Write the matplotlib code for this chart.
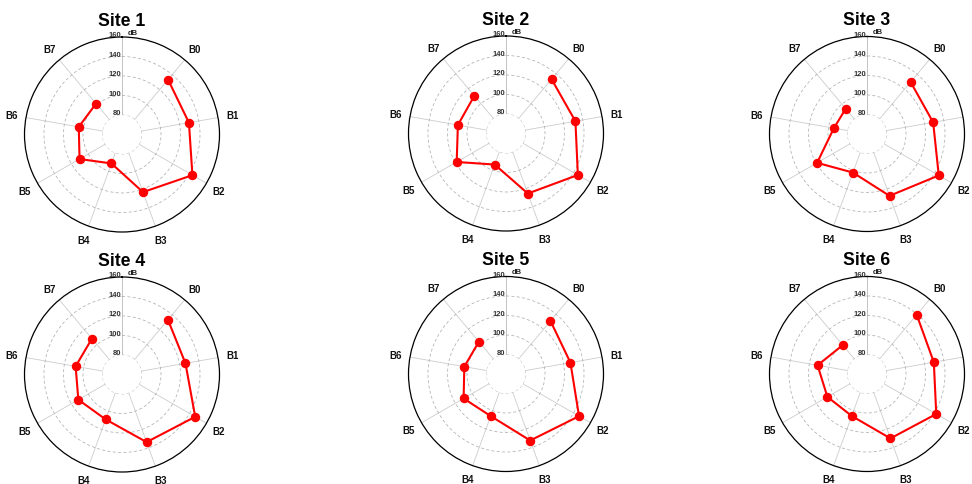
import numpy as np
import matplotlib
matplotlib.use("Agg")
import matplotlib.pyplot as plt

plt.rcParams['font.family'] = ['Liberation Sans', 'DejaVu Sans']

# === DATA ===
bands = ["B0", "B1", "B2", "B3", "B4", "B5", "B6", "B7"]
band_angles_deg = [40, 80, 120, 160, 200, 240, 280, 320]
r_ticks = [80, 100, 120, 140, 160]
r_tick_labels = ["80", "100", "120", "140", "160"]

site_names = ["Site 1", "Site 2", "Site 3", "Site 4", "Site 5", "Site 6"]
site1 = [133.5, 129.7, 143.4, 122.9, 91.6, 110.3, 105.0, 101.4]
site2 = [132.7, 132.3, 145.1, 125.5, 93.9, 118.4, 110.1, 110.5]
site3 = [129.6, 128.9, 145.0, 127.5, 102.1, 119.1, 94.5, 93.9]
site4 = [133.3, 126.1, 146.7, 133.8, 109.0, 111.7, 108.3, 108.0]
site5 = [131.0, 127.1, 146.5, 132.6, 105.9, 110.2, 103.4, 103.3]
site6 = [139.3, 129.6, 142.0, 130.3, 105.8, 106.9, 111.5, 98.7]
site_values = [site1, site2, site3, site4, site5, site6]

# axes positions in pixels, laid out like the original 2x3 grid
W, H = 972, 485
size_px = 195
centers = [(122, 135.5), (506, 134.5), (867, 135), (122, 375.5), (506, 375), (867, 375)]


def draw_site(ax, name, values):
    theta = np.deg2rad(band_angles_deg)
    ax.set_theta_zero_location('N')
    ax.set_theta_direction(-1)
    ax.set_rorigin(60)
    ax.set_ylim(80, 160)

    ax.set_thetagrids([0] + band_angles_deg, labels=[""] * 9)
    ax.set_rgrids(r_ticks[:-1], labels=[""] * 4)
    ax.xaxis.grid(True, color='#cccccc', lw=0.6, ls='-')
    ax.yaxis.grid(True, color='#b0b0b0', lw=0.55, ls=(0, (4, 3)))
    ax.tick_params(length=0)
    ax.spines['polar'].set_color('black')
    ax.spines['polar'].set_linewidth(0.9)
    ax.spines['inner'].set_visible(False)
    ax.spines['inner'].set_edgecolor('none')
    ax.spines['inner'].set_linewidth(0)

    # radial axis line at the top
    ax.plot([0, 0], [80, 160], color='#9a9a9a', lw=0.7, zorder=1)

    for v, lbl in zip(r_ticks, r_tick_labels):
        ax.annotate(lbl, xy=(0, v), xytext=(-0.5, 1.5), textcoords='offset points',
                    ha='right', va='center', fontsize=5.5, fontweight='bold',
                    color='#333333', annotation_clip=False)
    ax.annotate("dB", xy=(0, 160), xytext=(4, 3.5), textcoords='offset points',
                ha='left', va='center', fontsize=5.5, fontweight='bold',
                color='#222222', annotation_clip=False)

    for ang, lbl in zip(band_angles_deg, bands):
        ax.text(np.deg2rad(ang), 175, lbl, ha='center', va='center', fontsize=7,
                fontweight='bold', color='#111111', clip_on=False)

    ax.plot(theta, values, color='#ff0000', lw=1.5, marker='o', markersize=5.8,
            markerfacecolor='#ff0000', markeredgecolor='#ff0000', zorder=5)

    ax.text(0.5, 1.062, name, transform=ax.transAxes, ha='center', va='baseline',
            fontsize=12.7, fontweight='bold', color='black')


fig = plt.figure(figsize=(W / 100, H / 100), dpi=100)
fig.patch.set_facecolor('white')

for (cx, cy), name, values in zip(centers, site_names, site_values):
    left = (cx - size_px / 2) / W
    bottom = (H - cy - size_px / 2) / H
    ax = fig.add_axes([left, bottom, size_px / W, size_px / H], projection='polar')
    draw_site(ax, name, values)

fig.savefig("out.png", dpi=100, facecolor='white')
